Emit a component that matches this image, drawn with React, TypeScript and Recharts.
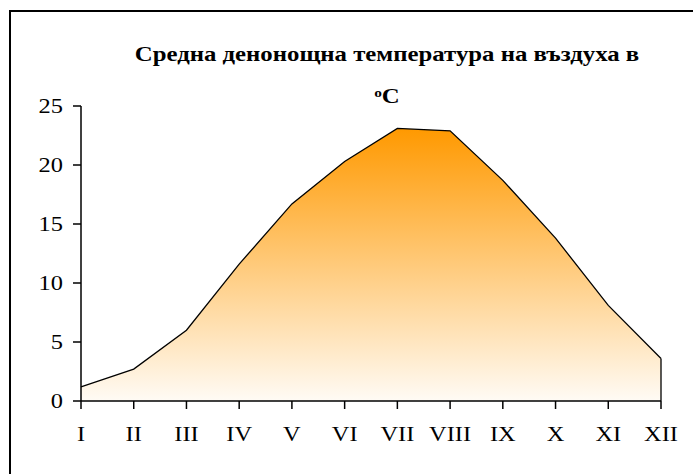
import React from "react";
import { AreaChart, Area, XAxis, YAxis, ReferenceLine } from "recharts";

const months = ["I", "II", "III", "IV", "V", "VI", "VII", "VIII", "IX", "X", "XI", "XII"];
const temps = [1.2, 2.7, 6.0, 11.6, 16.7, 20.3, 23.1, 22.9, 18.7, 13.8, 8.1, 3.6];
const yTicks = [0, 5, 10, 15, 20, 25];
const titleLine1 = "Средна денонощна температура на въздуха в";
const titleLine2 = "C";

const data = months.map((m, i) => ({ month: m, temp: temps[i] }));

const serif = "'Liberation Serif', 'Times New Roman', serif";

// the original text is a bit stretched sideways, so labels get a small scaleX
function WideTick(props: any) {
    const { x, y, payload, anchor, dy } = props;
    return (
        <text
            x={0}
            y={0}
            transform={`translate(${x},${y}) scale(1.22,1)`}
            textAnchor={anchor}
            dy={dy}
            fill="#000"
            fontSize={20}
            fontFamily={serif}
        >
            {payload.value}
        </text>
    );
}

const titleStyle: React.CSSProperties = {
    position: "absolute",
    left: 86.5,
    width: 600,
    textAlign: "center",
    fontSize: 21,
    lineHeight: "21px",
    fontWeight: "bold",
    whiteSpace: "nowrap",
    transform: "scaleX(1.18)",
    transformOrigin: "300px 0",
};

export default function App() {
    const last = data[data.length - 1];

    return (
        <div
            style={{
                position: "absolute",
                left: 0,
                top: 0,
                width: 693,
                height: 474,
                overflow: "hidden",
                background: "#fff",
                fontFamily: serif,
            }}
        >
            {/* outer frame, right/bottom edges fall outside the picture */}
            <div
                style={{
                    position: "absolute",
                    left: 9,
                    top: 10,
                    width: 720,
                    height: 520,
                    border: "2px solid #000",
                }}
            />
            <div style={{ ...titleStyle, top: 44 }}>{titleLine1}</div>
            <div style={{ ...titleStyle, top: 82 }}>
                <span style={{ fontSize: 13, verticalAlign: 6 }}>o</span>
                {titleLine2}
            </div>
            <AreaChart
                width={693}
                height={474}
                data={data}
                margin={{ top: 106, right: 32, bottom: 33, left: 21 }}
                style={{ position: "absolute", left: 0, top: 0 }}
            >
                <defs>
                    <linearGradient id="tempFill" x1="0" y1="0" x2="0" y2="1">
                        <stop offset="0%" stopColor="#ff9900" />
                        <stop offset="100%" stopColor="#fffbf5" />
                    </linearGradient>
                </defs>
                <Area
                    type="linear"
                    dataKey="temp"
                    stroke="#000"
                    strokeWidth={1.3}
                    fill="url(#tempFill)"
                    fillOpacity={1}
                    isAnimationActive={false}
                    dot={false}
                    activeDot={false}
                />
                <ReferenceLine
                    segment={[
                        { x: last.month, y: 0 },
                        { x: last.month, y: last.temp },
                    ]}
                    stroke="#000"
                    strokeWidth={1.3}
                />
                <XAxis
                    dataKey="month"
                    height={40}
                    stroke="#000"
                    strokeWidth={1.5}
                    tickSize={8}
                    tickMargin={18}
                    interval={0}
                    tick={<WideTick anchor="middle" dy="0.71em" />}
                />
                <YAxis
                    width={60}
                    domain={[0, 25]}
                    ticks={yTicks}
                    stroke="#000"
                    strokeWidth={1.5}
                    tickSize={8}
                    tickMargin={10}
                    tick={<WideTick anchor="end" dy="0.355em" />}
                />
            </AreaChart>
        </div>
    );
}
